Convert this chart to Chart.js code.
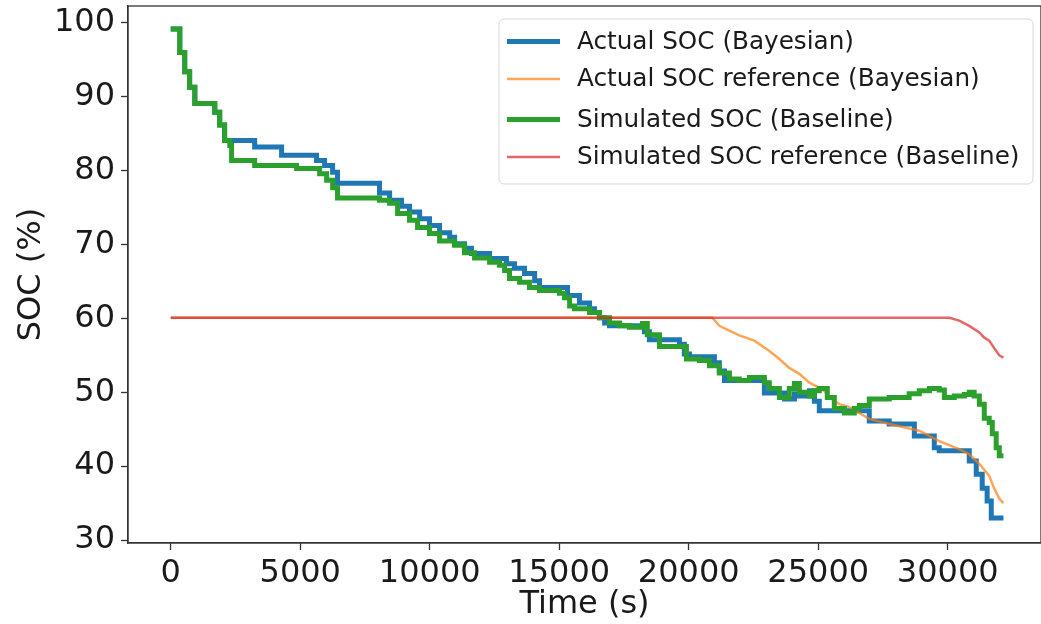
<!DOCTYPE html>
<html>
<head>
    <title>SOC</title>
    <script src="https://cdn.jsdelivr.net/npm/chart.js"></script>
    <style>
        body { margin: 0; background: #fff; }
        #wrap { width: 1041px; height: 624px; }
    </style>
</head>
<body>
    <div id="wrap"><canvas id="soc"></canvas></div>

    <script>
        // datos
        var xTicks = [0, 5000, 10000, 15000, 20000, 25000, 30000];
        var yTicks = [30, 40, 50, 60, 70, 80, 90, 100];

        // Actual SOC (Bayesian) - escalones
        var tActual = [0, 350, 540, 730, 930, 1700, 1890, 2080, 3240, 4280, 5630, 5940, 6250, 6440, 8060, 8450, 8910, 9220, 9610, 9990, 10380, 10770, 10960, 11340, 11610, 12310, 12960, 13270, 13660, 14050, 14240, 15320, 15780, 16170, 16360, 16550, 16750, 16940, 18290, 18480, 19640, 19830, 20030, 20990, 21180, 21380, 22920, 23700, 24080, 24270, 24660, 24850, 25040, 26970, 27740, 28710, 29480, 29670, 30830, 31100, 31330, 31520, 31680, 32150];
        var socActual = [99.2, 96, 93.4, 91.3, 89.1, 87.9, 86.2, 84.1, 83.2, 82.1, 81.4, 80.7, 79.8, 78.3, 77, 76, 75.2, 74.4, 73.5, 72.6, 71.6, 71, 70.1, 69.5, 68.8, 68.1, 67.4, 66.8, 66.1, 65.1, 64.2, 63.1, 62.1, 61.3, 60.8, 60.1, 59.4, 59, 58.2, 57.1, 56.5, 55.2, 54.8, 54, 52.9, 51.6, 49.9, 49.1, 49.8, 49.5, 50.2, 48.8, 47.5, 46.1, 45.7, 44.1, 42.5, 42.1, 40.7, 38.9, 37, 35.3, 33, 33];

        // Actual SOC reference (Bayesian)
        var tActualRef = [0, 20910, 21180, 21950, 22530, 23110, 23500, 23880, 24270, 24660, 25040, 25230, 25430, 25810, 26200, 26970, 27740, 28900, 29670, 30440, 30830, 31220, 31600, 31790, 31990, 32150];
        var socActualRef = [60.1, 60.1, 59, 57.7, 57, 55.6, 54.5, 53.3, 52.5, 51.3, 50.6, 50.2, 49.3, 48.4, 48, 46.4, 45.7, 44.8, 43.4, 42.3, 41.6, 40.3, 38.7, 37, 35.6, 35];

        // Simulated SOC (Baseline)
        var tSim = [0, 350, 540, 730, 930, 1700, 1890, 2080, 2280, 2350, 3240, 4860, 5750, 6020, 6250, 6440, 8060, 8450, 8760, 9220, 9530, 9990, 10380, 10960, 11340, 11730, 12310, 12690, 12890, 13080, 13470, 13850, 14240, 15010, 15200, 15400, 15590, 16170, 16550, 16940, 17330, 17710, 18210, 18400, 18870, 19910, 20410, 20800, 21180, 21570, 21950, 22340, 22920, 23110, 23500, 23880, 24080, 24270, 24660, 24850, 25040, 25350, 25620, 26010, 26390, 26590, 26970, 27740, 28510, 28900, 29290, 29670, 29870, 30250, 30640, 30830, 31020, 31220, 31410, 31600, 31720, 31870, 31990, 32150];
        var socSim = [99.2, 96, 93.4, 91.3, 89.1, 87.9, 86.2, 84.1, 83.4, 81.4, 80.7, 80.3, 79.6, 78.7, 77.7, 76.3, 76, 75.6, 74.2, 73.3, 72.3, 71.5, 70.5, 69.9, 68.9, 68.2, 67.6, 67.2, 66.5, 65.4, 64.9, 64.2, 63.8, 63.4, 62.8, 61.7, 61.3, 60.8, 60.1, 59.4, 59, 58.8, 59.3, 57.8, 56.2, 54.5, 54.3, 53.6, 52.6, 51.8, 51.6, 52, 51.3, 50.5, 49.3, 50.5, 51.2, 50, 49.5, 50.2, 50.5, 49.3, 47.8, 47.2, 47.8, 48.2, 49.1, 49.3, 49.8, 50.2, 50.5, 50.3, 49.3, 49.5, 49.7, 50, 49.5, 48.4, 46.5, 45.9, 44.4, 42.5, 41.4, 41.4];

        // Simulated SOC reference (Baseline)
        var tSimRef = [0, 30060, 30440, 30830, 31220, 31410, 31600, 31790, 31990, 32150];
        var socSimRef = [60.1, 60.1, 59.7, 59, 58.1, 57.4, 57, 56, 55, 54.7];

        function toPoints(t, v) {
            return t.map(function(x, i) { return {x: x, y: v[i]}; });
        }

        var FONT = 'DejaVu Sans';

        // marco completo y leyenda tipo matplotlib
        var framePlugin = {
            id: 'frame',
            afterDatasetsDraw: function(chart) {
                var ctx = chart.ctx, a = chart.chartArea;
                ctx.save();
                ctx.strokeStyle = '#333';
                ctx.lineWidth = 1.3;
                ctx.strokeRect(a.left, a.top, a.right - a.left, a.bottom - a.top);

                // leyenda
                var bx = 499, by = 19, bw = 534, bh = 165;
                ctx.beginPath();
                ctx.roundRect(bx, by, bw, bh, 5);
                ctx.fillStyle = 'rgba(255,255,255,0.85)';
                ctx.fill();
                ctx.strokeStyle = '#d6d6d6';
                ctx.lineWidth = 1;
                ctx.stroke();

                var rowY = [41.5, 79, 119.5, 157];
                ctx.font = '24.7px ' + FONT;
                ctx.textBaseline = 'middle';
                chart.data.datasets.forEach(function(ds, i) {
                    ctx.beginPath();
                    ctx.strokeStyle = ds.borderColor;
                    ctx.lineWidth = ds.borderWidth;
                    ctx.moveTo(507, rowY[i]);
                    ctx.lineTo(560, rowY[i]);
                    ctx.stroke();
                    ctx.fillStyle = '#1a1a1a';
                    ctx.fillText(ds.label, 577, rowY[i] + 1);
                });
                ctx.restore();
            }
        };

        var ctx = document.getElementById('soc').getContext('2d');
        var chart = new Chart(ctx, {
            type: 'line',
            data: {
                datasets: [{
                    label: 'Actual SOC (Bayesian)',
                    data: toPoints(tActual, socActual),
                    borderColor: '#1f77b4',
                    borderWidth: 5,
                    stepped: true,
                    pointRadius: 0,
                    order: 4
                }, {
                    label: 'Actual SOC reference (Bayesian)',
                    data: toPoints(tActualRef, socActualRef),
                    borderColor: 'rgba(255,127,14,0.7)',
                    borderWidth: 2.5,
                    pointRadius: 0,
                    order: 3
                }, {
                    label: 'Simulated SOC (Baseline)',
                    data: toPoints(tSim, socSim),
                    borderColor: '#2ca02c',
                    borderWidth: 5,
                    stepped: true,
                    pointRadius: 0,
                    order: 2
                }, {
                    label: 'Simulated SOC reference (Baseline)',
                    data: toPoints(tSimRef, socSimRef),
                    borderColor: 'rgba(214,39,40,0.7)',
                    borderWidth: 2.5,
                    pointRadius: 0,
                    order: 1
                }]
            },
            options: {
                responsive: true,
                maintainAspectRatio: false,
                animation: false,
                layout: { padding: { top: 6, right: 0, left: 0, bottom: 0 } },
                plugins: {
                    legend: { display: false },
                    tooltip: { enabled: false }
                },
                scales: {
                    x: {
                        type: 'linear',
                        min: -1650,
                        max: 33600,
                        afterBuildTicks: function(scale) {
                            scale.ticks = xTicks.map(function(v) { return {value: v}; });
                        },
                        afterFit: function(scale) {
                            scale.height = 81;
                            scale.paddingLeft = 0;
                            scale.paddingRight = 0;
                        },
                        grid: { drawOnChartArea: false, tickLength: 7, tickColor: '#333', tickWidth: 1.3 },
                        border: { color: '#333', width: 1.3 },
                        ticks: {
                            color: '#1a1a1a',
                            font: { family: FONT, size: 32 },
                            padding: 4,
                            maxRotation: 0,
                            callback: function(v) { return String(v); }
                        },
                        title: {
                            display: true,
                            text: 'Time (s)',
                            color: '#1a1a1a',
                            font: { family: FONT, size: 32 },
                            padding: { top: 0, bottom: 0 }
                        }
                    },
                    y: {
                        min: 29.6,
                        max: 102.3,
                        afterBuildTicks: function(scale) {
                            scale.ticks = yTicks.map(function(v) { return {value: v}; });
                        },
                        afterFit: function(scale) {
                            scale.width = 128;
                            scale.paddingTop = 0;
                            scale.paddingBottom = 0;
                        },
                        grid: { drawOnChartArea: false, tickLength: 7, tickColor: '#333', tickWidth: 1.3 },
                        border: { color: '#333', width: 1.3 },
                        ticks: {
                            color: '#1a1a1a',
                            font: { family: FONT, size: 32 },
                            padding: 6,
                            callback: function(v) { return String(v); }
                        },
                        title: {
                            display: true,
                            text: 'SOC (%)',
                            color: '#1a1a1a',
                            font: { family: FONT, size: 32 },
                            padding: { top: 12, bottom: 0 }
                        }
                    }
                }
            },
            plugins: [framePlugin]
        });
    </script>
</body>
</html>
